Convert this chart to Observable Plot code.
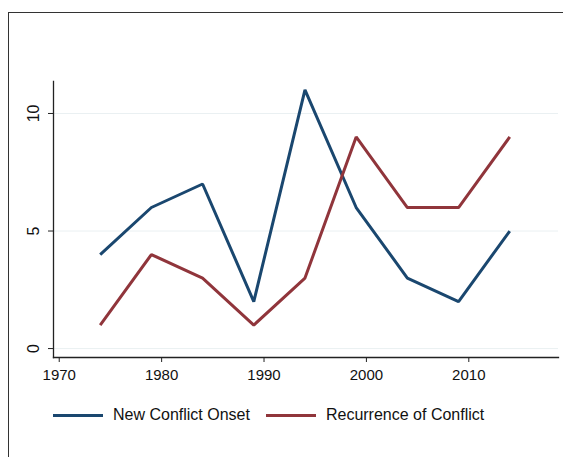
<!DOCTYPE html>
<html>
<head>
<meta charset="utf-8">
<script src="https://cdn.jsdelivr.net/npm/d3@7"></script>
<script src="https://cdn.jsdelivr.net/npm/@observablehq/plot@0.6"></script>
<style>
  html, body { margin: 0; padding: 0; background: #fff; }
  #wrap { position: relative; width: 563px; height: 457px; overflow: hidden; font-family: "Liberation Sans", Arial, sans-serif; }
  #border { position: absolute; left: 8px; top: 12px; width: 600px; height: 500px; border: 1.5px solid #333; box-sizing: border-box; }
  #chart { position: absolute; left: 0; top: 0; }
  #legend { position: absolute; left: 53px; top: 406px; display: flex; align-items: center; font-size: 16px; color: #111; white-space: nowrap; }
  .sw { display: inline-block; width: 50px; height: 3px; margin-right: 10px; }
  .item { display: flex; align-items: center; margin-right: 16px; }
</style>
</head>
<body>
<div id="wrap">
  <div id="border"></div>
  <div id="chart"></div>
  <div id="legend"></div>
</div>
<script>
const years = [1974, 1979, 1984, 1989, 1994, 1999, 2004, 2009, 2014];
const newOnset = [4, 6, 7, 2, 11, 6, 3, 2, 5];
const recurrence = [1, 4, 3, 1, 3, 9, 6, 6, 9];
const seriesNames = ["New Conflict Onset", "Recurrence of Conflict"];
const seriesColors = ["#1a476f", "#90353b"];
const xTicks = [1970, 1980, 1990, 2000, 2010];
const yTicks = [0, 5, 10];

const data = [];
years.forEach((yr, i) => {
  data.push({year: yr, value: newOnset[i], series: seriesNames[0]});
  data.push({year: yr, value: recurrence[i], series: seriesNames[1]});
});

const chart = Plot.plot({
  width: 563,
  height: 457,
  marginLeft: 53,
  marginRight: 5,
  marginTop: 81,
  marginBottom: 100,
  style: {fontFamily: '"Liberation Sans", Arial, sans-serif', fontSize: "15px", background: "transparent", overflow: "visible"},
  x: {domain: [1969.44, 2018.76]},
  y: {domain: [-0.38, 11.36]},
  color: {domain: seriesNames, range: seriesColors},
  marks: [
    Plot.gridY(yTicks, {stroke: "#eaf0f2", strokeOpacity: 1, strokeWidth: 1}),
    Plot.frame({anchor: "left", stroke: "#222", strokeWidth: 1.3}),
    Plot.frame({anchor: "bottom", stroke: "#222", strokeWidth: 1.3}),
    Plot.axisX(xTicks, {tickSize: 5, tickPadding: 7, fontSize: 15, tickFormat: d => String(d), stroke: "#222", fill: "#111", label: null}),
    Plot.axisY(yTicks, {tickSize: 5, tickPadding: 10, fontSize: 16, tickRotate: -90, textAnchor: "middle", stroke: "#222", fill: "#111", label: null}),
    Plot.line(data, {x: "year", y: "value", z: "series", stroke: "series", strokeWidth: 3, strokeLinejoin: "miter", strokeLinecap: "butt"})
  ]
});
document.getElementById("chart").appendChild(chart);
d3.select(chart).selectAll('g[aria-label="x-axis tick label"] text').style("font-size", "15px");
d3.select(chart).selectAll('g[aria-label="y-axis tick label"] text').style("font-size", "16px");

const legend = document.getElementById("legend");
seriesNames.forEach((name, i) => {
  const item = document.createElement("div");
  item.className = "item";
  const sw = document.createElement("span");
  sw.className = "sw";
  sw.style.background = seriesColors[i];
  const t = document.createElement("span");
  t.textContent = name;
  item.appendChild(sw);
  item.appendChild(t);
  legend.appendChild(item);
});
</script>
</body>
</html>
